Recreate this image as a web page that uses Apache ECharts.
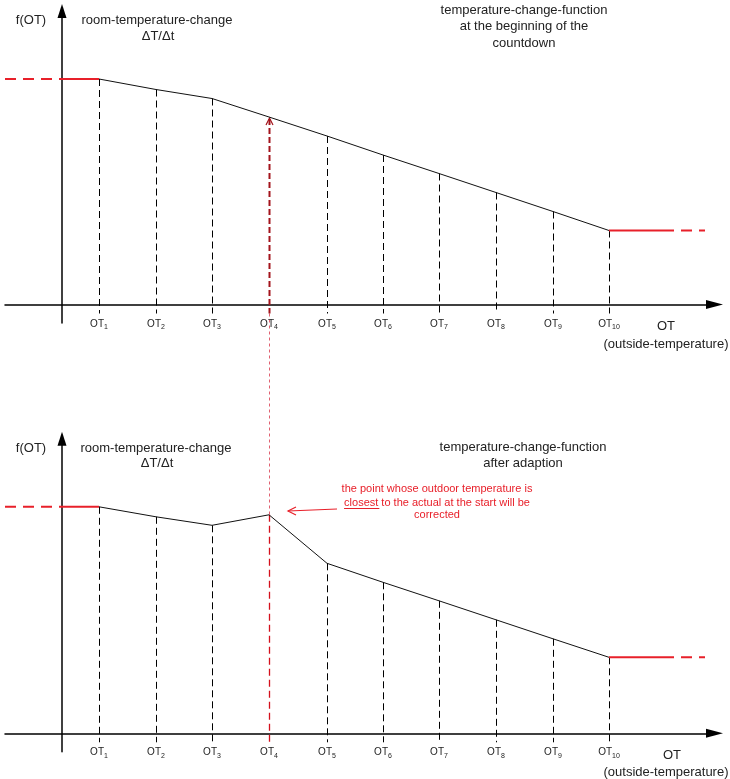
<!DOCTYPE html>
<html>
<head>
<meta charset="utf-8">
<script src="https://cdn.jsdelivr.net/npm/echarts@6/dist/echarts.min.js"></script>
<style>
    html, body { margin: 0; padding: 0; background: #fff; }
    #chart { width: 730px; height: 779px; }
</style>
</head>
<body>
<div id="chart"></div>
<script>
    // OT1..OT10 positions along the outside-temperature axis (f(OT) axis sits at 0)
    var otX = [37, 94, 150, 207, 265, 321, 377, 434, 491, 547];
    var otSub = ['1', '2', '3', '4', '5', '6', '7', '8', '9', '10'];
    // f(OT) at the beginning of the countdown
    var fStart = [225.5, 215, 206, 187.5, 168.5, 149.5, 131, 112, 93, 74];
    // f(OT) after adaption (OT4 corrected)
    var fAdapted = [226.5, 216.5, 208, 218.5, 170, 151, 132.5, 113.5, 94.5, 76];
    var corrected = 3;
    // extent of the constant parts left of OT1 and right of OT10
    var leftEnd = -57, rightSolid = 601, rightEnd = 643;

    var FONT = '"Liberation Sans", Arial, sans-serif';
    var RED = '#e8202a';
    var TXT = '#222';

    var chart = echarts.init(document.getElementById('chart'));

    function xAxisFor(g) {
        return {
            type: 'value', gridIndex: g, min: -57, max: 652.5,
            splitLine: { show: false }, axisTick: { show: false },
            axisLine: { onZero: true, symbol: ['none', 'triangle'], symbolSize: [9, 17],
                lineStyle: { color: '#000', width: 1.5 } },
            axisLabel: {
                customValues: otX, margin: -6,
                formatter: function (v) {
                    var i = otX.indexOf(v);
                    return '{b|OT}{s|' + otSub[i] + '}';
                },
                rich: {
                    b: { fontSize: 10, lineHeight: 14, color: TXT, fontFamily: FONT },
                    s: { fontSize: 7, lineHeight: 14, color: TXT, fontFamily: FONT, verticalAlign: 'bottom' }
                }
            }
        };
    }
    function yAxisFor(g, min, max) {
        return {
            type: 'value', gridIndex: g, min: min, max: max,
            splitLine: { show: false }, axisTick: { show: false }, axisLabel: { show: false },
            axisLine: { onZero: true, symbol: ['none', 'triangle'], symbolSize: [9, 14],
                lineStyle: { color: '#000', width: 1.5 } }
        };
    }

    function curve(ys, g) {
        return {
            type: 'line', xAxisIndex: g, yAxisIndex: g, symbol: 'none', silent: true,
            lineStyle: { color: '#111', width: 1 },
            data: otX.map(function (x, i) { return [x, ys[i]]; })
        };
    }
    function flat(x1, x2, y, g, dashed) {
        return {
            type: 'line', xAxisIndex: g, yAxisIndex: g, symbol: 'none', silent: true,
            lineStyle: { color: RED, width: 2, type: dashed ? [11, 7] : 'solid' },
            data: [[x1, y], [x2, y]]
        };
    }
    function drops(ys, g) {
        return {
            type: 'custom', xAxisIndex: g, yAxisIndex: g, silent: true,
            data: otX.map(function (x, i) { return [x, ys[i], i]; }),
            renderItem: function (params, api) {
                var top = api.coord([api.value(0), api.value(1)]);
                var bot = api.coord([api.value(0), -9]);
                var px = Math.round(top[0]) + 0.5;
                var i = api.value(2);
                if (i === corrected && g === 0) {
                    return {
                        type: 'group', children: [
                            { type: 'line', shape: { x1: px, y1: top[1] + 2, x2: px, y2: bot[1] },
                              style: { stroke: '#a3141c', lineWidth: 2, lineDash: [6, 3] } },
                            { type: 'polyline', shape: { points: [[px - 3.5, top[1] + 8], [px, top[1] + 1], [px + 3.5, top[1] + 8]] },
                              style: { stroke: '#a3141c', lineWidth: 1.2, fill: null } }
                        ]
                    };
                }
                return {
                    type: 'line', shape: { x1: px, y1: top[1], x2: px, y2: bot[1] },
                    style: { stroke: i === corrected ? '#d4101c' : '#000', lineWidth: i === corrected ? 1.3 : 1, lineDash: [7, 4] }
                };
            }
        };
    }

    function txt(x, y, text, size, color) {
        return { type: 'text', x: x, y: y, silent: true,
            style: { text: text, font: size + 'px ' + FONT, fill: color || TXT, textAlign: 'center', textVerticalAlign: 'middle' } };
    }

    var grids = [
        { left: 5, right: 15.5, top: 11, height: 312 },
        { left: 5, right: 15.5, top: 438.7, height: 313 }
    ];

    var option = {
        animation: false,
        backgroundColor: '#fff',
        grid: grids.map(function (g) { g.outerBoundsMode = 'none'; return g; }),
        xAxis: [xAxisFor(0), xAxisFor(1)],
        yAxis: [yAxisFor(0, -18.5, 293.5), yAxisFor(1, -18.4, 294.6)],
        series: [
            drops(fStart, 0),
            curve(fStart, 0),
            flat(leftEnd, 0, fStart[0], 0, true),
            flat(0, otX[0], fStart[0], 0, false),
            flat(otX[9], rightSolid, fStart[9], 0, false),
            flat(rightSolid, rightEnd, fStart[9], 0, true),
            drops(fAdapted, 1),
            curve(fAdapted, 1),
            flat(leftEnd, 0, fAdapted[0], 1, true),
            flat(0, otX[0], fAdapted[0], 1, false),
            flat(otX[9], rightSolid, fAdapted[9], 1, false),
            flat(rightSolid, rightEnd, fAdapted[9], 1, true)
        ]
    };
    chart.setOption(option);

    // link the corrected point between the two diagrams
    var pA = chart.convertToPixel({ gridIndex: 0 }, [otX[corrected], -9]);
    var pB = chart.convertToPixel({ gridIndex: 1 }, [otX[corrected], fAdapted[corrected]]);
    var lx = Math.round(pA[0]) + 0.5;

    var ctx = document.createElement('canvas').getContext('2d');
    ctx.font = '11px ' + FONT;
    var line2 = 'closest to the actual at the start will be';
    var l2w = ctx.measureText(line2).width;
    var ulw = ctx.measureText('closest ').width;
    var ulx = 437 - l2w / 2;

    chart.setOption({
        graphic: [
            { type: 'line', silent: true, shape: { x1: lx, y1: pA[1], x2: lx, y2: pB[1] },
              style: { stroke: '#e06070', lineWidth: 1, lineDash: [3, 3] } },
            txt(31, 20, 'f(OT)', 13),
            txt(157, 20, 'room-temperature-change', 13),
            txt(158, 36, 'ΔT/Δt', 13),
            txt(524, 10, 'temperature-change-function', 13),
            txt(524, 26.5, 'at the beginning of the', 13),
            txt(524, 43, 'countdown', 13),
            txt(666, 326, 'OT', 13),
            txt(666, 344, '(outside-temperature)', 13),
            txt(31, 448, 'f(OT)', 13),
            txt(156, 448, 'room-temperature-change', 13),
            txt(157, 463.5, 'ΔT/Δt', 13),
            txt(523, 447.5, 'temperature-change-function', 13),
            txt(523, 463.5, 'after adaption', 13),
            txt(672, 755, 'OT', 13),
            txt(666, 772, '(outside-temperature)', 13),
            txt(437, 489, 'the point whose outdoor temperature is', 11, RED),
            txt(437, 502.5, line2, 11, RED),
            txt(437, 514.5, 'corrected', 11, RED),
            { type: 'line', silent: true, shape: { x1: ulx, y1: 508.5, x2: ulx + ulw - 2, y2: 508.5 },
              style: { stroke: RED, lineWidth: 1 } },
            { type: 'line', silent: true, shape: { x1: 337, y1: 509, x2: 288, y2: 511 },
              style: { stroke: RED, lineWidth: 1.2 } },
            { type: 'polyline', silent: true, shape: { points: [[296, 507], [288, 511], [296, 515]] },
              style: { stroke: RED, lineWidth: 1.2, fill: null } }
        ]
    });
</script>
</body>
</html>
